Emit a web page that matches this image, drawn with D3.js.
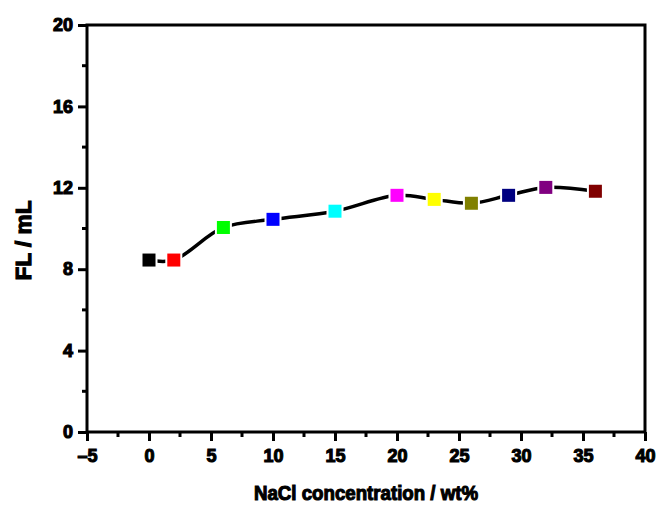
<!DOCTYPE html>
<html><head><meta charset="utf-8">
<script src="https://cdn.jsdelivr.net/npm/d3@7"></script>
<style>body{margin:0;background:#fff}svg{display:block}text{font-family:"Liberation Sans",Arial,sans-serif;font-weight:bold}</style>
</head><body>
<script>
const nacl = [0, 2, 6, 10, 15, 20, 23, 26, 29, 32, 36];
const fl = [8.45, 8.45, 10.05, 10.45, 10.85, 11.63, 11.43, 11.24, 11.63, 12.02, 11.83];
const colors = ["#000000","#ff0000","#00ff00","#0000ff","#00ffff","#ff00ff","#ffff00","#808000","#000080","#800080","#800000"];
const xTicks = [-5,0,5,10,15,20,25,30,35,40];
const yTicks = [0,4,8,12,16,20];
const xLabel = "NaCl concentration / wt%";
const yLabel = "FL / mL";

const W=658,H=508;
const m={l:87,t:25,r:13,b:76};
const svg=d3.select("body").append("svg").attr("width",W).attr("height",H);
const x=d3.scaleLinear().domain([-5,40]).range([m.l,W-m.r]);
const y=d3.scaleLinear().domain([0,20]).range([H-m.b,m.t]);

// frame
svg.append("rect").attr("x",x(-5)).attr("y",y(20)).attr("width",x(40)-x(-5)).attr("height",y(0)-y(20))
  .attr("fill","none").attr("stroke","#000").attr("stroke-width",3);

// minor ticks
const xMinor=d3.range(-2.5,40,5);
const yMinor=d3.range(2,20,4);
svg.append("g").selectAll("line").data(xMinor).join("line")
  .attr("x1",d=>x(d)).attr("x2",d=>x(d)).attr("y1",y(0)).attr("y2",y(0)+5)
  .attr("stroke","#000").attr("stroke-width",3);
svg.append("g").selectAll("line").data(yMinor).join("line")
  .attr("y1",d=>y(d)).attr("y2",d=>y(d)).attr("x1",x(-5)).attr("x2",x(-5)-5)
  .attr("stroke","#000").attr("stroke-width",3);

const xa=svg.append("g").attr("transform",`translate(0,${y(0)})`)
  .call(d3.axisBottom(x).tickValues(xTicks).tickSize(9).tickPadding(8).tickFormat(d=>d<0?"\u2013"+(-d):d));
const ya=svg.append("g").attr("transform",`translate(${x(-5)},0)`)
  .call(d3.axisLeft(y).tickValues(yTicks).tickSize(9).tickPadding(5));
[xa,ya].forEach(g=>{
  g.select(".domain").remove();
  g.selectAll(".tick line").attr("stroke","#000").attr("stroke-width",3);
  g.selectAll(".tick text").attr("font-size",18).attr("fill","#000")
    .attr("font-family","'Liberation Sans',Arial,sans-serif").attr("font-weight","bold")
    .attr("stroke","#000").attr("stroke-width",1.1);
});

// line
const pts=nacl.map((d,i)=>[x(d),y(fl[i])]);
svg.append("path").datum(pts).attr("d",d3.line().curve(d3.curveCatmullRom.alpha(0.5)))
  .attr("fill","none").attr("stroke","#000").attr("stroke-width",3.5);

// markers
const s=13;
svg.append("g").selectAll("rect").data(nacl).join("rect")
  .attr("x",(d)=>x(d)-s/2).attr("y",(d,i)=>y(fl[i])-s/2).attr("width",s).attr("height",s)
  .attr("fill",(d,i)=>colors[i]).attr("stroke","#fff").attr("stroke-width",4);
svg.append("g").selectAll("rect").data(nacl).join("rect")
  .attr("x",(d)=>x(d)-s/2).attr("y",(d,i)=>y(fl[i])-s/2).attr("width",s).attr("height",s)
  .attr("fill",(d,i)=>colors[i]);

// axis labels
svg.append("text").attr("x",(x(-5)+x(40))/2).attr("y",500).attr("text-anchor","middle")
  .attr("font-size",20).attr("stroke","#000").attr("stroke-width",1.1)
  .attr("textLength",224).attr("lengthAdjust","spacingAndGlyphs").text(xLabel);
svg.append("text").attr("transform",`translate(31,${(y(0)+y(20))/2+12}) rotate(-90)`).attr("text-anchor","middle")
  .attr("font-size",22).attr("stroke","#000").attr("stroke-width",1.2)
  .attr("textLength",80).attr("lengthAdjust","spacingAndGlyphs").text(yLabel);
</script>
</body></html>
